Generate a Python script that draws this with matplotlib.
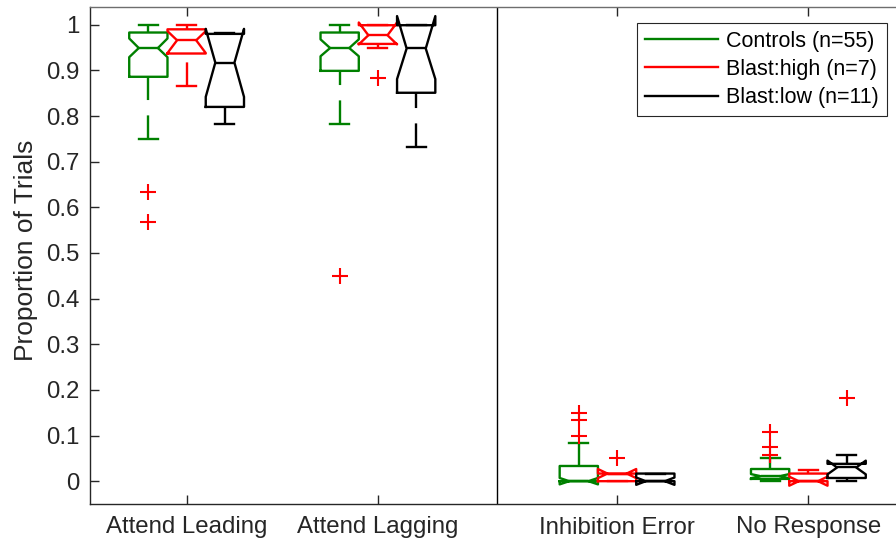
import numpy as np
import matplotlib.pyplot as plt
from matplotlib.lines import Line2D
from matplotlib.ticker import FormatStrFormatter

plt.rcParams['font.family'] = ['Liberation Sans', 'DejaVu Sans']

categories = ['Attend Leading', 'Attend Lagging', 'Inhibition Error', 'No Response']
cat_pos = [1, 2, 3.25, 4.25]
groups = ['Controls (n=55)', 'Blast:high (n=7)', 'Blast:low (n=11)']
colors = ['#008000', '#ff0000', '#000000']

# summary stats per group (rows) and category (columns)
med = [[0.949, 0.949, 0.0, 0.011],
       [0.966, 0.977, 0.0167, 0.0],
       [0.917, 0.948, 0.0, 0.030]]
q1 = [[0.886, 0.899, 0.0, 0.005],
      [0.937, 0.958, 0.0, 0.0],
      [0.820, 0.851, 0.0, 0.007]]
q3 = [[0.983, 0.983, 0.0333, 0.0267],
      [0.990, 0.999, 0.0167, 0.0167],
      [0.980, 0.999, 0.0167, 0.038]]
whislo = [[0.75, 0.783, 0.0, 0.0],
          [0.866, 0.950, 0.0, 0.0],
          [0.782, 0.733, 0.0, 0.0]]
whishi = [[1.0, 1.0, 0.0833, 0.05],
          [1.0, 1.0, 0.0167, 0.025],
          [0.983, 1.0, 0.0167, 0.058]]
cilo = [[0.929, 0.931, -0.007, 0.0065],
        [0.938, 0.957, 0.0068, -0.0099],
        [0.842, 0.881, -0.008, 0.015]]
cihi = [[0.970, 0.968, 0.007, 0.0155],
        [0.986, 1.005, 0.0266, 0.0099],
        [0.991, 1.019, 0.008, 0.045]]
fliers = [[[0.633, 0.567], [0.45], [0.1, 0.133, 0.15], [0.058, 0.075, 0.108]],
          [[], [0.883], [0.05], []],
          [[], [], [], [0.183]]]

offsets = [-0.2, 0.0, 0.2]
box_w = 0.2
lw = 1.7
axis_col = '#262626'

fig = plt.figure(figsize=(8.96, 5.45), dpi=100)
ax = fig.add_axes([90 / 896, 1 - 504 / 545, 1 - 90 / 896, (504 - 6.5) / 545])

for g in range(3):
    c = colors[g]
    stats = []
    for k in range(4):
        stats.append(dict(med=med[g][k], q1=q1[g][k], q3=q3[g][k],
                          whislo=whislo[g][k], whishi=whishi[g][k],
                          cilo=cilo[g][k], cihi=cihi[g][k],
                          fliers=np.array(fliers[g][k])))
    art = ax.bxp(stats, positions=[p + offsets[g] for p in cat_pos],
                 widths=box_w, shownotches=True, manage_ticks=False,
                 boxprops=dict(color=c, lw=lw),
                 medianprops=dict(color=c, lw=lw),
                 whiskerprops=dict(color=c, lw=lw, linestyle=(0, (10, 6.5))),
                 capprops=dict(color=c, lw=lw),
                 flierprops=dict(marker='+', markeredgecolor='r', markersize=11,
                                 markeredgewidth=1.5, linestyle='none'))
    # dash pattern starts at the cap end, like the original whiskers
    for wl in art['whiskers']:
        x, y = wl.get_data()
        wl.set_data(x[::-1], y[::-1])

ax.axvline(2.625, color='k', lw=1)

ax.set_xlim(0.495, 4.708)
ax.set_ylim(-0.05, 1.04)
ax.set_xticks(cat_pos)
ax.set_xticklabels(categories)
ax.set_yticks(np.arange(0, 1.01, 0.1))
ax.yaxis.set_major_formatter(FormatStrFormatter('%g'))
ax.tick_params(direction='in', length=6.5, width=1, colors=axis_col,
               labelsize=17.3, top=True, right=False)
ax.tick_params(axis='x', pad=9)
ax.tick_params(axis='y', pad=7.5)
for s in ['left', 'bottom', 'top']:
    ax.spines[s].set_color(axis_col)
    ax.spines[s].set_linewidth(1)
ax.spines['top'].set_color('#6e6e6e')
ax.spines['right'].set_visible(False)

ax.set_ylabel('Proportion of Trials', fontsize=19, color=axis_col)
ax.yaxis.set_label_coords(-0.065, 0.51)

handles = [Line2D([], [], color=c, lw=lw) for c in colors]
leg = ax.legend(handles, groups, loc='upper right',
                bbox_to_anchor=(886.7 / 896, 1 - 23.3 / 545),
                bbox_transform=fig.transFigure, borderaxespad=0,
                fontsize=15.5, handlelength=3.4, handletextpad=0.4,
                labelspacing=0.33, borderpad=0.35, fancybox=False,
                framealpha=1, edgecolor=axis_col)
leg.get_frame().set_linewidth(0.8)

fig.savefig('out.png', dpi=100)
